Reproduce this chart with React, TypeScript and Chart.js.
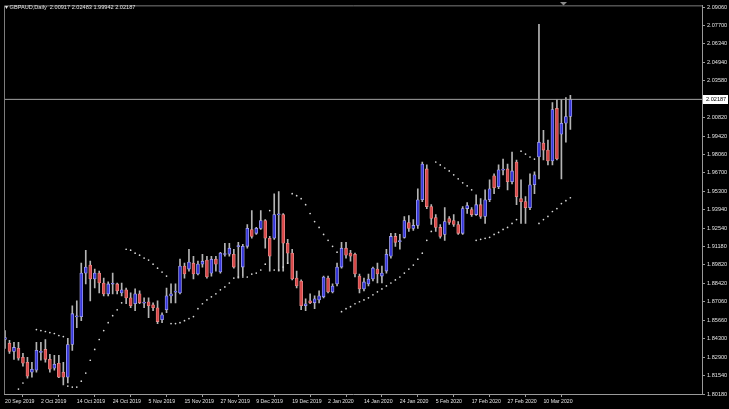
import React, { useEffect, useRef } from "react";
import { Chart, registerables } from "chart.js";

Chart.register(...registerables);

// ---------- data ----------
const symbolTitle = "\u25BE GBPAUD,Daily  2.00917 2.02483 1.99942 2.02187";

const dateLabels = [
  "20 Sep 2019", "2 Oct 2019", "14 Oct 2019", "24 Oct 2019", "5 Nov 2019",
  "15 Nov 2019", "27 Nov 2019", "9 Dec 2019", "19 Dec 2019", "2 Jan 2020",
  "14 Jan 2020", "24 Jan 2020", "5 Feb 2020", "17 Feb 2020", "27 Feb 2020",
  "10 Mar 2020",
];
const dateTickIndex = [0, 8, 16, 24, 32, 40, 48, 56, 64, 72, 80, 88, 96, 104, 112, 120];

const priceTicks = [
  2.0906, 2.077, 2.0634, 2.0494, 2.0358, 2.0082, 1.9942, 1.9806, 1.967, 1.953,
  1.9394, 1.9254, 1.9118, 1.8982, 1.8842, 1.8706, 1.8566, 1.843, 1.829, 1.8154, 1.8018,
];

const openP = [
  1.8425, 1.8396, 1.8336, 1.8359, 1.8292, 1.8255, 1.8181, 1.8196, 1.8329, 1.8351,
  1.8277, 1.8211, 1.8248, 1.8181, 1.8144, 1.8388, 1.8594, 1.8596, 1.8921, 1.8981,
  1.8877, 1.8921, 1.8847, 1.8766, 1.8838, 1.8840, 1.8773, 1.8796, 1.8736, 1.8692,
  1.8766, 1.8697, 1.8707, 1.8684, 1.8662, 1.8573, 1.8647, 1.8751, 1.8779, 1.8773,
  1.8973, 1.8951, 1.8995, 1.8914, 1.8988, 1.9018, 1.8921, 1.9025, 1.8929, 1.9060,
  1.9062, 1.9062, 1.9119, 1.8966, 1.9121, 1.9247, 1.9218, 1.9255, 1.9314, 1.9181,
  1.9181, 1.9356, 1.9358, 1.9144, 1.9070, 1.8884, 1.8862, 1.8677, 1.8714, 1.8699,
  1.8721, 1.8744, 1.8884, 1.8781, 1.8840, 1.8966, 1.9107, 1.9070, 1.9062, 1.8899,
  1.8803, 1.8840, 1.8877, 1.8951, 1.8899, 1.8936, 1.9047, 1.9195, 1.9156, 1.9188,
  1.9299, 1.9255, 1.9277, 1.9469, 1.9699, 1.9418, 1.9336, 1.9262, 1.9210, 1.9329,
  1.9314, 1.9284, 1.9218, 1.9403, 1.9395, 1.9358, 1.9432, 1.9344, 1.9469, 1.9647,
  1.9566, 1.9690, 1.9699, 1.9603, 1.9751, 1.9477, 1.9455, 1.9410, 1.9581, 1.9788,
  1.9892, 1.9840, 1.9758, 2.0151, 1.9958, 2.0040, 2.00917,
];
const highP = [
  1.8492, 1.8418, 1.8403, 1.8403, 1.8322, 1.8292, 1.8255, 1.8403, 1.8403, 1.8425,
  1.8314, 1.8307, 1.8307, 1.8255, 1.8433, 1.8677, 1.8714, 1.8995, 1.9092, 1.9010,
  1.8951, 1.8936, 1.8884, 1.8855, 1.8921, 1.8847, 1.8847, 1.8810, 1.8773, 1.8803,
  1.8788, 1.8736, 1.8736, 1.8699, 1.8714, 1.8625, 1.8810, 1.8840, 1.8840, 1.9025,
  1.8995, 1.9099, 1.9047, 1.9010, 1.9062, 1.9047, 1.9047, 1.9047, 1.9077, 1.9144,
  1.9144, 1.9099, 1.9151, 1.9136, 1.9284, 1.9388, 1.9262, 1.9388, 1.9321, 1.9195,
  1.9514, 1.9529, 1.9366, 1.9173, 1.9099, 1.8936, 1.8870, 1.8729, 1.8766, 1.8751,
  1.8788, 1.8899, 1.8899, 1.8840, 1.8995, 1.9151, 1.9151, 1.9092, 1.9070, 1.8914,
  1.8884, 1.8914, 1.8966, 1.8995, 1.8973, 1.9099, 1.9218, 1.9218, 1.9210, 1.9344,
  1.9351, 1.9321, 1.9551, 1.9751, 1.9729, 1.9432, 1.9358, 1.9284, 1.9410, 1.9344,
  1.9358, 1.9306, 1.9418, 1.9447, 1.9410, 1.9506, 1.9477, 1.9543, 1.9618, 1.9662,
  1.9729, 1.9773, 1.9736, 1.9825, 1.9766, 1.9618, 1.9492, 1.9662, 1.9677, 2.0780,
  1.9988, 1.9914, 2.0195, 2.0217, 2.0217, 2.0232, 2.02483,
];
const lowP = [
  1.8359, 1.8322, 1.8277, 1.8270, 1.8225, 1.8137, 1.8144, 1.8181, 1.8270, 1.8255,
  1.8181, 1.8196, 1.8140, 1.8085, 1.8100, 1.8344, 1.8514, 1.8566, 1.8840, 1.8714,
  1.8810, 1.8773, 1.8751, 1.8751, 1.8766, 1.8766, 1.8751, 1.8692, 1.8662, 1.8640,
  1.8692, 1.8662, 1.8588, 1.8640, 1.8544, 1.8551, 1.8625, 1.8699, 1.8699, 1.8766,
  1.8884, 1.8936, 1.8877, 1.8907, 1.8966, 1.8884, 1.8899, 1.8936, 1.8921, 1.9047,
  1.9047, 1.8958, 1.8884, 1.8899, 1.9107, 1.9181, 1.9210, 1.9247, 1.9107, 1.8936,
  1.9173, 1.8936, 1.8936, 1.8995, 1.8870, 1.8810, 1.8647, 1.8640, 1.8692, 1.8655,
  1.8699, 1.8736, 1.8773, 1.8773, 1.8825, 1.8958, 1.9033, 1.9010, 1.8892, 1.8773,
  1.8788, 1.8825, 1.8862, 1.8847, 1.8847, 1.8921, 1.9033, 1.9121, 1.9099, 1.9181,
  1.9232, 1.9240, 1.9255, 1.9455, 1.9403, 1.9284, 1.9232, 1.9181, 1.9166, 1.9284,
  1.9269, 1.9210, 1.9210, 1.9366, 1.9344, 1.9351, 1.9329, 1.9292, 1.9455, 1.9514,
  1.9551, 1.9655, 1.9543, 1.9588, 1.9432, 1.9292, 1.9292, 1.9395, 1.9514, 1.9625,
  1.9766, 1.9729, 1.9729, 1.9766, 1.9625, 1.9899, 1.99942,
];
const closeP = [
  1.8440, 1.8336, 1.8366, 1.8285, 1.8248, 1.8151, 1.8203, 1.8344, 1.8333, 1.8277,
  1.8203, 1.8240, 1.8144, 1.8144, 1.8388, 1.8618, 1.8598, 1.8921, 1.8966, 1.8877,
  1.8921, 1.8847, 1.8766, 1.8840, 1.8842, 1.8788, 1.8796, 1.8736, 1.8677, 1.8766,
  1.8699, 1.8701, 1.8677, 1.8662, 1.8559, 1.8610, 1.8751, 1.8766, 1.8783, 1.8973,
  1.8914, 1.9003, 1.8914, 1.8988, 1.9010, 1.8892, 1.9025, 1.8988, 1.9070, 1.9064,
  1.9107, 1.8966, 1.9123, 1.9121, 1.9255, 1.9195, 1.9255, 1.9314, 1.9181, 1.9047,
  1.9358, 1.9360, 1.9144, 1.9070, 1.8877, 1.8825, 1.8677, 1.8692, 1.8699, 1.8729,
  1.8751, 1.8892, 1.8781, 1.8825, 1.8966, 1.9107, 1.9055, 1.9047, 1.8914, 1.8803,
  1.8855, 1.8877, 1.8958, 1.8914, 1.8921, 1.9062, 1.9195, 1.9151, 1.9160, 1.9314,
  1.9255, 1.9277, 1.9469, 1.9736, 1.9418, 1.9329, 1.9262, 1.9195, 1.9306, 1.9299,
  1.9284, 1.9218, 1.9403, 1.9425, 1.9358, 1.9432, 1.9344, 1.9469, 1.9551, 1.9558,
  1.9692, 1.9694, 1.9603, 1.9684, 1.9492, 1.9455, 1.9410, 1.9581, 1.9655, 1.9899,
  1.9840, 1.9758, 2.0143, 1.9773, 2.0040, 2.0091, 2.02187,
];
const sarP: (number | null)[] = [
  null, null, null, 1.8055, 1.8100, null, null, 1.8499, 1.8492, 1.8485,
  1.8477, 1.8470, 1.8455, 1.8447, 1.8077, 1.8070, 1.8070, 1.8114, 1.8174, 1.8270,
  1.8351, 1.8425, 1.8492, 1.8551, 1.8603, 1.8647, 1.8699, 1.9099, 1.9092, 1.9070,
  1.9055, 1.9033, 1.9018, 1.8988, 1.8958, 1.8929, 1.8899, 1.8544, 1.8544, 1.8551,
  1.8566, 1.8581, 1.8596, 1.8655, 1.8692, 1.8721, 1.8744, 1.8766, 1.8796, 1.8818,
  1.8847, 1.8884, 1.8892, 1.8892, 1.8892, 1.8914, 1.8921, 1.8944, 1.8988, 1.9388,
  1.8944, 1.8944, 1.8966, 1.8995, 1.9514, 1.9499, 1.9477, 1.9432, 1.9366, 1.9306,
  1.9262, 1.9210, 1.9166, 1.9121, 1.9077, 1.8633, 1.8655, 1.8670, 1.8692, 1.8707,
  1.8721, 1.8736, 1.8759, 1.8781, 1.8803, 1.8825, 1.8847, 1.8870, 1.8892, 1.8921,
  1.8951, 1.8981, 1.9025, 1.9070, 1.9166, 1.9232, 1.9751, 1.9729, 1.9706, 1.9684,
  1.9655, 1.9625, 1.9595, 1.9573, 1.9543, 1.9166, 1.9173, 1.9181, 1.9188, 1.9210,
  1.9225, 1.9247, 1.9262, 1.9292, 1.9321, 1.9832, 1.9810, 1.9788, 1.9773, 1.9292,
  1.9321, 1.9344, 1.9381, 1.9403, 1.9440, 1.9462, 1.9484,
];

// ---------- styling ----------
const W = 729;
const H = 409;
const BULL = "#3535d8";
const BULL_EDGE = "#a8a8f0";
const BEAR = "#d84848";
const BEAR_EDGE = "#e88a8a";
const WICK = "#b4b4b4";
const AXIS = "#9a9a9a";
const TEXT = "#e2e2e2";
const FONT = "'Liberation Sans', Arial, sans-serif";

const Y_MIN = 1.8018;
const Y_MAX = 2.09208;
const X_MIN = -0.2222;
const X_MAX = X_MIN + 700 / 4.5;

const decorPlugin = {
  id: "decor",
  afterDraw(chart: any) {
    const { ctx, chartArea, scales } = chart;
    ctx.save();
    // frame top/left
    ctx.strokeStyle = "#7c7c7c";
    ctx.lineWidth = 1;
    ctx.beginPath();
    ctx.moveTo(chartArea.left + 0.5, chartArea.bottom);
    ctx.lineTo(chartArea.left + 0.5, chartArea.top + 0.5);
    ctx.lineTo(chartArea.right, chartArea.top + 0.5);
    ctx.stroke();
    // header
    ctx.fillStyle = TEXT;
    ctx.font = `5.6px ${FONT}`;
    ctx.textBaseline = "middle";
    ctx.textAlign = "left";
    ctx.fillText(symbolTitle, 5, 7.5);
    // shift marker
    ctx.fillStyle = "#8a8a8a";
    ctx.beginPath();
    ctx.moveTo(560, 2);
    ctx.lineTo(567, 2);
    ctx.lineTo(563.5, 5.5);
    ctx.closePath();
    ctx.fill();
    // current price label
    const last = closeP[closeP.length - 1];
    const y = scales.y.getPixelForValue(last);
    ctx.fillStyle = "#ffffff";
    ctx.fillRect(chartArea.right + 1, Math.round(y) - 4, 25, 9);
    ctx.fillStyle = "#000000";
    ctx.font = `5.6px ${FONT}`;
    ctx.fillText(last.toFixed(5), chartArea.right + 4, Math.round(y) + 0.5);
    ctx.restore();
  },
};

export default function App() {
  const ref = useRef<HTMLCanvasElement>(null);

  useEffect(() => {
    document.body.style.margin = "0";
    document.body.style.background = "#000";
    const idx = openP.map((_, i) => i);
    const isBull = (i: number) => closeP[i] >= openP[i];
    const last = closeP[closeP.length - 1];

    const chart = new Chart(ref.current as HTMLCanvasElement, {
      type: "bar",
      data: {
        datasets: [
          {
            type: "scatter",
            label: "Parabolic SAR",
            data: idx
              .filter((i) => sarP[i] !== null)
              .map((i) => ({ x: i, y: sarP[i] as number })),
            pointRadius: 0.85,
            pointBackgroundColor: "#d8d8d8",
            pointBorderWidth: 0,
            order: 0,
          } as any,
          {
            type: "line",
            label: "Bid",
            data: [
              { x: X_MIN, y: last },
              { x: X_MAX, y: last },
            ],
            borderColor: "#a4a4a4",
            borderWidth: 1,
            pointRadius: 0,
            order: 1,
          } as any,
          {
            type: "bar",
            label: "Body",
            data: idx.map((i) => ({ x: i, y: [openP[i], closeP[i]] })),
            backgroundColor: idx.map((i) => (isBull(i) ? BULL : BEAR)),
            borderColor: idx.map((i) => (isBull(i) ? BULL_EDGE : BEAR_EDGE)),
            borderWidth: 0.8,
            borderSkipped: false,
            barThickness: 3,
            minBarLength: 1,
            grouped: false,
            order: 2,
          } as any,
          {
            type: "bar",
            label: "Wick",
            data: idx.map((i) => ({ x: i, y: [lowP[i], highP[i]] })),
            backgroundColor: WICK,
            barThickness: 1,
            grouped: false,
            order: 3,
          } as any,
        ],
      },
      options: {
        animation: false,
        responsive: false,
        devicePixelRatio: 1,
        layout: { padding: { top: 2, left: 2, right: 0, bottom: 0 } },
        plugins: {
          legend: { display: false },
          tooltip: { enabled: false },
          title: { display: false },
        },
        scales: {
          x: {
            type: "linear",
            position: "bottom",
            min: X_MIN,
            max: X_MAX,
            offset: false,
            afterBuildTicks: (s: any) => {
              s.ticks = dateTickIndex.map((v) => ({ value: v }));
            },
            afterFit: (s: any) => {
              s.height = 15;
            },
            ticks: {
              autoSkip: false,
              maxRotation: 0,
              minRotation: 0,
              align: "start",
              padding: 1,
              color: TEXT,
              font: { size: 5.2, family: FONT },
              callback: (v: any) => {
                const k = dateTickIndex.indexOf(Number(v));
                return k >= 0 ? dateLabels[k] : "";
              },
            },
            grid: { drawOnChartArea: false, drawTicks: true, tickLength: 3, color: AXIS },
            border: { display: true, color: AXIS },
          },
          y: {
            type: "linear",
            position: "right",
            min: Y_MIN,
            max: Y_MAX,
            afterBuildTicks: (s: any) => {
              s.ticks = priceTicks.map((v) => ({ value: v }));
            },
            afterFit: (s: any) => {
              s.width = 27;
            },
            ticks: {
              padding: 2,
              color: TEXT,
              font: { size: 5.6, family: FONT },
              callback: (v: any) => Number(v).toFixed(5),
            },
            grid: { drawOnChartArea: false, drawTicks: true, tickLength: 3, color: AXIS },
            border: { display: true, color: AXIS },
          },
        },
      } as any,
      plugins: [decorPlugin],
    });
    return () => chart.destroy();
  }, []);

  return (
    <div style={{ position: "fixed", left: 0, top: 0, width: W, height: H, background: "#000" }}>
      <canvas ref={ref} width={W} height={H} style={{ display: "block", width: W, height: H }} />
    </div>
  );
}
